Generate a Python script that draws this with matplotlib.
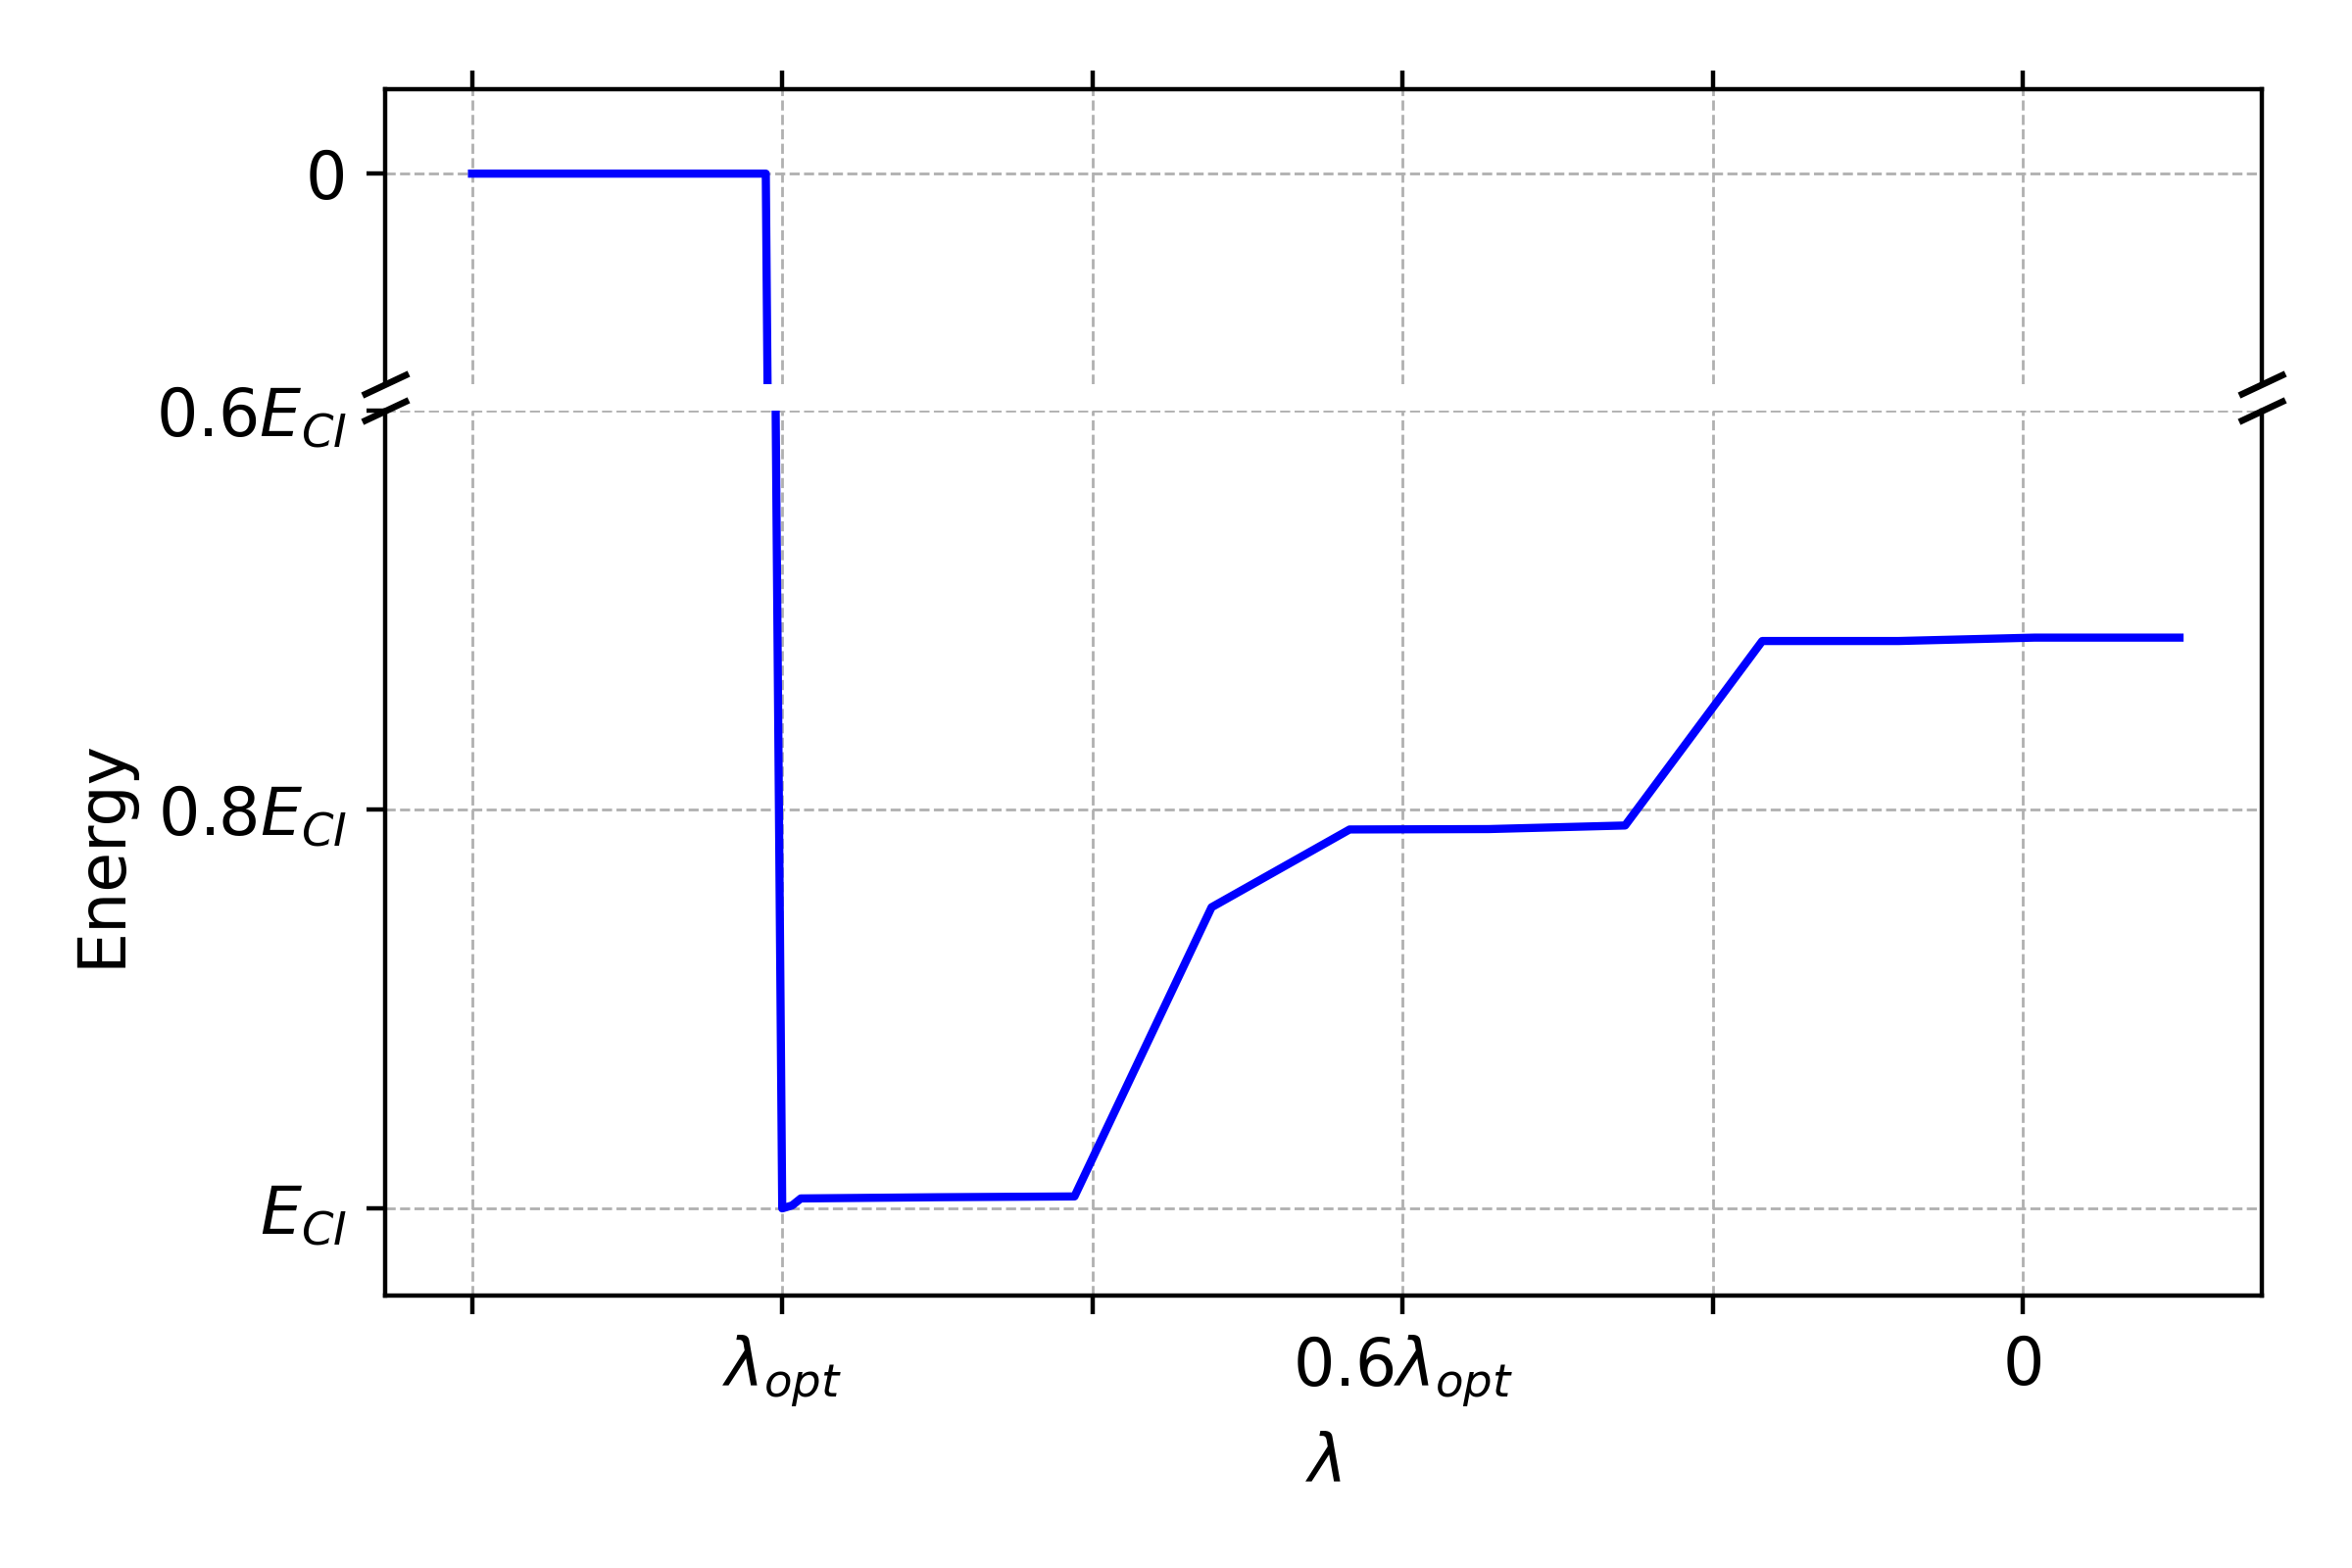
import numpy as np
import matplotlib
matplotlib.use("Agg")
import matplotlib.pyplot as plt

plt.rcParams["font.size"] = 12

# positions along the lambda axis (tick 1 = lambda_opt, 3 = 0.6 lambda_opt, 5 = 0)
lam_pos = [0.0, 0.947, 1.0, 1.032, 1.06, 1.5, 1.942, 2.384, 2.829, 3.277, 3.717, 4.159, 4.598, 5.037, 5.504]
# energy in units of |E_CI| (E_CI = -1)
energy = [0.0, 0.0, -1.0, -0.9985, -0.995, -0.9944, -0.994, -0.849, -0.810, -0.8098, -0.808,
          -0.7155, -0.7155, -0.7138, -0.7138]

x_ticks = [0, 1, 2, 3, 4, 5]
x_ticklabels = ["", r"$\lambda_{opt}$", "", r"$0.6\lambda_{opt}$", "", "0"]
y_ticks_top = [0]
y_ticklabels_top = ["0"]
y_ticks_bot = [-0.6, -0.8, -1.0]
y_ticklabels_bot = [r"$0.6E_{CI}$", r"$0.8E_{CI}$", r"$E_{CI}$"]

fig = plt.figure(figsize=(6, 4), dpi=400)
ax_top = fig.add_axes([0.16375, 0.755, 0.798, 0.188])
ax_bot = fig.add_axes([0.16375, 0.17375, 0.798, 0.56435])

for ax in (ax_top, ax_bot):
    ax.plot(lam_pos, energy, color="blue", lw=1.5)
    ax.set_xlim(-0.28, 5.77)
    ax.set_xticks(x_ticks)
    ax.grid(True, ls="--", lw=0.5, color="#b0b0b0")

ax_top.set_ylim(-0.1057, 0.0423)
ax_bot.set_ylim(-1.0437, -0.6)

ax_top.set_yticks(y_ticks_top)
ax_top.set_yticklabels(y_ticklabels_top)
ax_bot.set_yticks(y_ticks_bot)
ax_bot.set_yticklabels(y_ticklabels_bot)

ax_top.spines["bottom"].set_visible(False)
ax_bot.spines["top"].set_visible(False)
ax_top.xaxis.tick_top()
ax_top.tick_params(labeltop=False)
ax_bot.xaxis.tick_bottom()
ax_bot.set_xticklabels(x_ticklabels)

ax_bot.set_xlabel(r"$\lambda$")
ax_bot.set_ylabel("Energy")

# break marks
d = 0.47
kw = dict(marker=[(-1, -d), (1, d)], markersize=8.5, linestyle="none",
          color="k", mec="k", mew=1.2, clip_on=False)
ax_top.plot([0, 1], [0, 0], transform=ax_top.transAxes, **kw)
ax_bot.plot([0, 1], [1, 1], transform=ax_bot.transAxes, **kw)

fig.savefig("out.png", dpi=400)
